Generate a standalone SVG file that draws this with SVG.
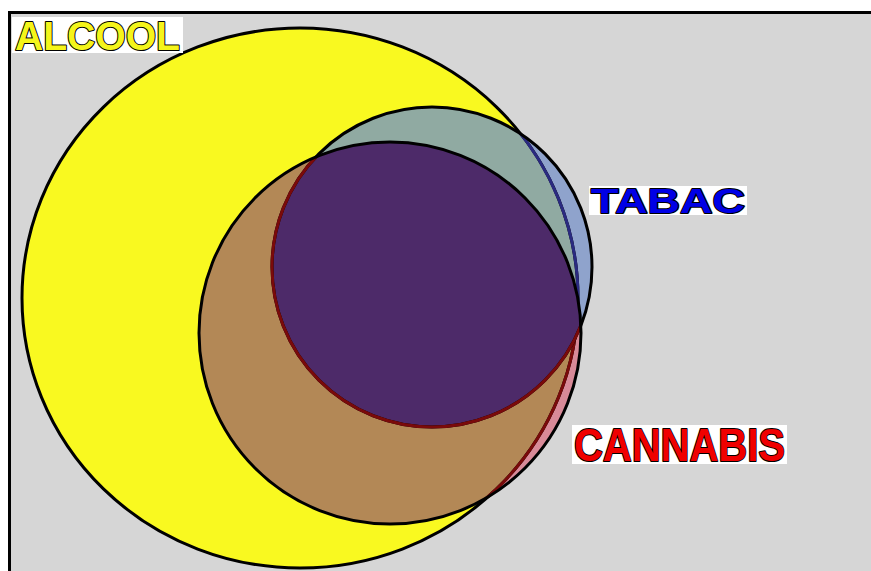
<svg xmlns="http://www.w3.org/2000/svg" width="871" height="571" viewBox="0 0 871 571">
<style>
.lbl{font-family:"Liberation Sans",Arial,sans-serif;font-weight:bold;stroke:#000;stroke-width:2;paint-order:stroke;stroke-linejoin:round}
.bx{fill:#ffffff}
.ol{fill:none;stroke-width:3}
</style>
<defs>
<clipPath id="clipA"><ellipse cx="300" cy="298" rx="278" ry="270"/></clipPath>
<clipPath id="clipT"><circle cx="432" cy="267" r="160"/></clipPath>
<clipPath id="clipC"><circle cx="390" cy="333" r="191"/></clipPath>
</defs>
<rect x="0" y="0" width="871" height="571" fill="#ffffff"/>
<rect x="9.5" y="12.5" width="900" height="600" fill="#d6d6d6" stroke="#000" stroke-width="3"/>

<g id="alcool">
<ellipse cx="300" cy="298" rx="278" ry="270" fill="#f9f920"/>
</g>
<g id="tabac">
<circle cx="432" cy="267" r="160" fill="#8fa3cc"/>
<g clip-path="url(#clipA)"><circle cx="432" cy="267" r="160" fill="#90aaa2"/></g>
</g>
<g id="cannabis">
<circle cx="390" cy="333" r="191" fill="#d88a98"/>
<g clip-path="url(#clipA)"><circle cx="390" cy="333" r="191" fill="#b38856"/></g>
</g>
<g id="outlines">
<ellipse class="ol" cx="300" cy="298" rx="278" ry="270" stroke="#000"/>
<g clip-path="url(#clipT)"><ellipse class="ol" cx="300" cy="298" rx="278" ry="270" stroke="#2a2a80"/></g>
<g clip-path="url(#clipC)"><ellipse class="ol" cx="300" cy="298" rx="278" ry="270" stroke="#7a0a0a"/></g>
<g id="tabac-cannabis" clip-path="url(#clipC)"><circle cx="432" cy="267" r="160" fill="#4d2a69"/></g>
<circle class="ol" cx="432" cy="267" r="160" stroke="#000"/>
<g clip-path="url(#clipC)"><circle class="ol" cx="432" cy="267" r="160" stroke="#7a0a0a"/></g>
<circle class="ol" cx="390" cy="333" r="191" stroke="#000"/>
</g>

<g id="label-alcool">
<rect class="bx" x="12" y="17" width="171" height="36"/>
<text class="lbl" x="15" y="50" font-size="40" fill="#f5f51a" textLength="165" lengthAdjust="spacingAndGlyphs">ALCOOL</text>
</g>
<g id="label-tabac">
<rect class="bx" x="589" y="186" width="158" height="29"/>
<text class="lbl" x="591" y="213" font-size="35" fill="#0000e6" textLength="154" lengthAdjust="spacingAndGlyphs">TABAC</text>
</g>
<g id="label-cannabis">
<rect class="bx" x="572" y="425" width="215" height="39"/>
<text class="lbl" x="574" y="461" font-size="47" fill="#f00000" textLength="211" lengthAdjust="spacingAndGlyphs">CANNABIS</text>
</g>
</svg>
